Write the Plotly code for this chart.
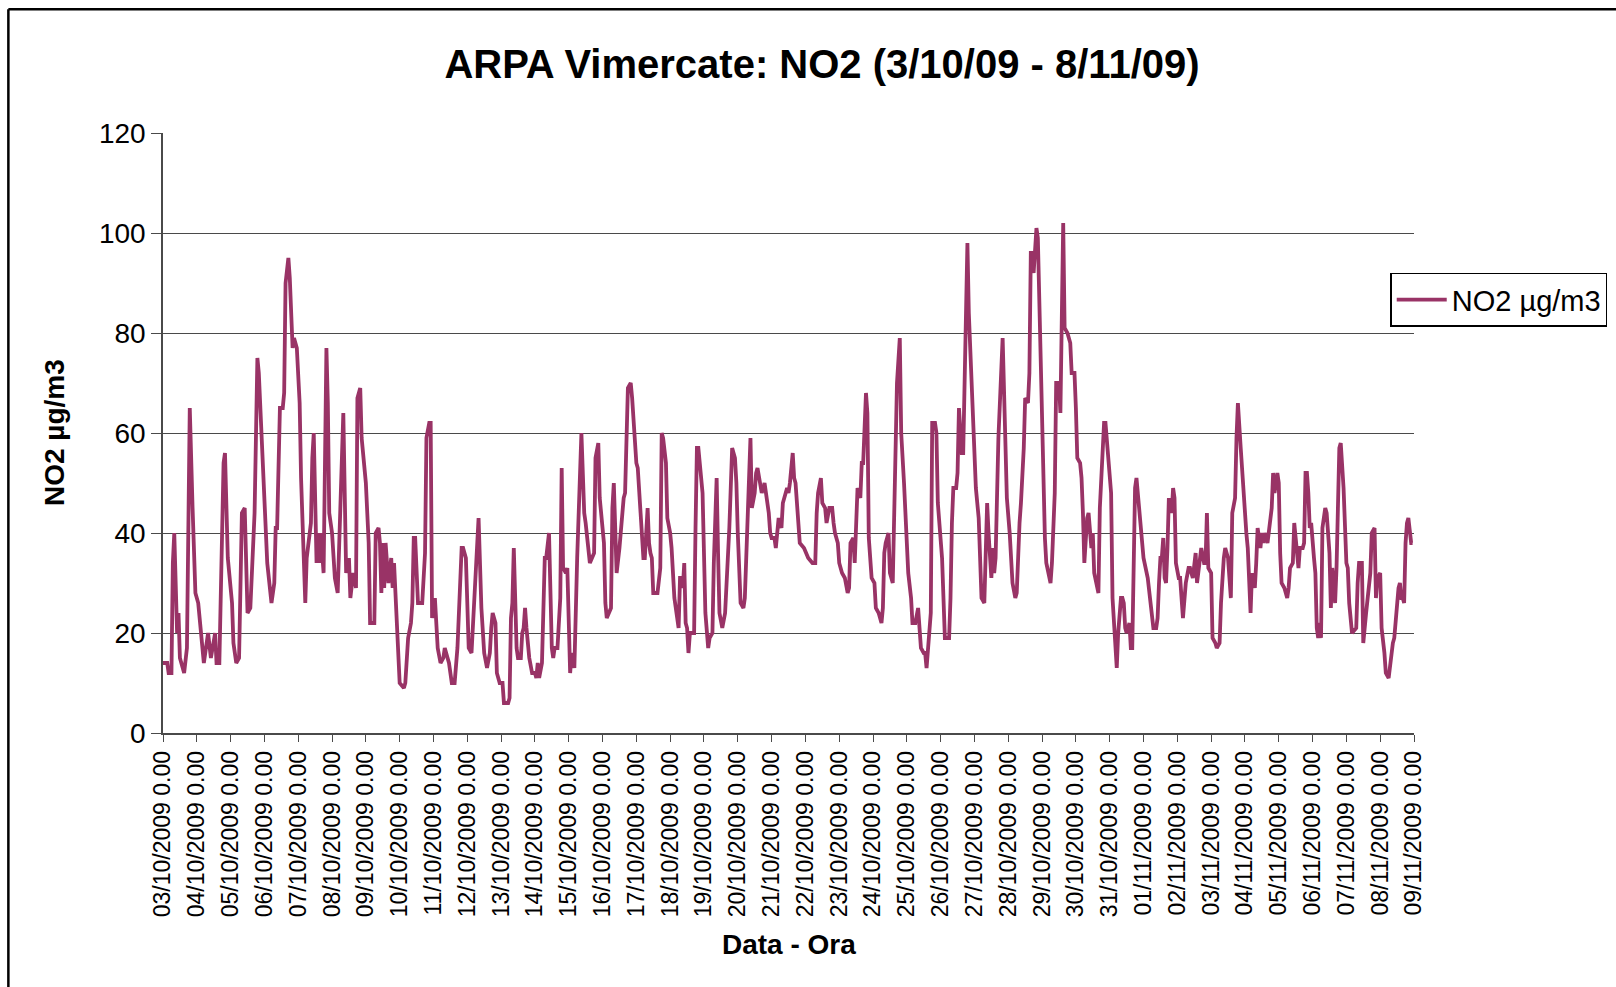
"""ARPA Vimercate NO2 hourly series, 3/10/09 - 8/11/09."""

import pandas as pd
import plotly.graph_objects as go

START = "2009-10-03"
N_DAYS = 37

# hours since 03/10/2009 0.00, and NO2 (µg/m3)
hours = [
    0, 3, 4, 6, 7, 8, 10, 11, 12, 15, 17, 18, 19, 21, 23, 25, 26, 28, 29, 32, 34, 37, 38, 40,
    43, 44, 46, 49, 50, 52, 54, 56, 58, 60, 62, 65, 67, 68, 70, 71, 72, 74, 77, 79, 80, 81,
    83, 85, 86, 87, 89, 90, 92, 93, 95, 97, 98, 101, 102, 105, 106, 107,
    109, 110, 111, 112, 114, 116, 117, 118, 120, 122, 124, 125, 128, 129, 130, 132, 133, 135,
    137, 138, 140, 141, 144, 145, 146, 147, 150, 151, 153, 154, 155, 156, 157, 158, 160, 162,
    163, 164, 166, 167, 168, 171, 172, 174, 176, 177, 178, 179, 181, 183, 184, 186, 187, 189,
    190, 191, 193, 195, 197, 199, 200, 203, 205, 207, 209, 212, 213, 215, 217, 219, 222, 224,
    226, 228, 230, 232, 233, 234, 236, 237, 239, 241, 242, 245, 246, 247, 248, 249, 251, 252,
    254, 255, 256, 257, 258, 260, 262, 264, 265, 266, 267, 269, 271, 272, 274, 276, 277, 278,
    280, 282, 283, 284, 286, 287, 289, 290, 292, 294, 297, 299, 300, 303, 306, 307, 309, 310,
    313, 314, 315, 318, 319, 320, 322, 324, 327, 328, 330, 332, 333, 336, 337,
    338, 339, 341, 342, 344, 345, 346, 347, 348, 351, 353, 354, 355, 357, 358, 360, 361, 363,
    366, 367, 368, 369, 370, 371, 372, 373, 374, 377, 378, 379, 380, 383, 385, 387, 388, 390,
    391, 393, 394, 395, 397, 399, 402, 404, 406, 407, 408, 410, 412, 413, 417, 418, 420, 421,
    422, 425, 427, 430, 431, 432, 434, 435, 437, 439, 440, 442, 443, 444, 445, 447, 448, 449,
    450, 451, 452,
    455, 458, 461, 463, 464, 465, 467, 468, 470, 471, 473, 475, 476, 477, 479, 480, 482, 484,
    486, 487, 488, 490, 491, 492, 493, 495, 496, 497, 499, 500, 501, 503, 505, 506, 508, 510,
    511, 512, 513, 515, 516, 518, 520, 521, 523, 524, 526, 528, 529, 531, 532, 534, 536, 537,
    538, 540, 541, 542, 545, 546, 548, 549, 550, 553, 554, 555, 558, 559, 560, 561, 563, 564,
    565,
    567, 568, 569, 571, 572, 573, 575, 576, 577, 579, 580, 581, 583, 584, 585, 586, 588, 589,
    590, 591, 593, 596, 597, 598, 599, 601, 602, 603, 605, 606, 608, 609, 611, 612, 614, 615,
    616, 617, 618, 619, 620, 621, 622, 623, 624, 625, 626, 627, 630, 631, 633, 634, 636, 637,
    638, 639, 640, 642, 643, 644, 645, 647, 648, 649, 651, 652, 653, 654, 656, 657, 659, 660,
    661, 664, 665, 668, 669, 673, 674, 675, 677, 678, 680,
    681, 682, 683, 684, 686, 687, 688, 690, 691, 693, 695, 696, 699, 700, 701, 703, 705, 706,
    707, 708, 709, 710, 711, 712, 713, 714, 716, 717, 718, 719, 721, 722, 724, 725, 726, 728,
    729, 731, 733, 734, 735, 737, 739, 740, 741, 742, 744, 745, 747, 748, 750, 751, 753, 754,
    756, 758, 759, 761, 762, 763, 765, 766, 767, 769, 770, 771, 772, 773, 775, 776, 777, 779,
    780, 781, 782, 784, 785, 787, 788, 789, 791, 792,
    793, 794, 796, 798, 799, 800, 802, 803, 804, 806, 807, 809, 810, 811, 812, 813, 814, 815,
    817, 818, 819, 820, 821, 822, 823, 825, 826, 828, 829, 830, 832, 833, 835, 836, 838, 840,
    841, 842, 844, 847, 848, 849, 851, 852, 854, 855, 857, 858, 860, 861, 862, 864, 865, 867,
    868, 870, 871, 873, 874, 875, 876, 877, 878, 879, 880, 881, 882, 883, 884, 886, 887,
]

no2 = [
    14, 14, 12, 12, 34, 40, 20, 24, 15, 12, 17, 45, 65, 45, 28, 26, 23, 17, 14, 20, 15, 20, 14, 14,
    54, 56, 35, 26, 18, 14, 15, 44, 45, 24, 25, 44, 75, 72, 60, 56, 49, 34, 26, 30, 41, 41,
    65, 65, 68, 90, 95, 91, 77, 79, 77, 66, 51, 26, 35, 42, 55, 60,
    34, 40, 34, 40, 32, 77, 66, 44, 40, 31, 28, 38, 64, 48, 32, 35, 27, 32,
    29, 67, 69, 59, 50, 44, 38, 22, 22, 40, 41, 38, 28, 38, 29, 38, 30, 35,
    29, 34, 21, 14, 10, 9, 10, 19, 22, 26, 39, 39, 26, 26, 26, 36, 59, 62,
    62, 23, 27, 17, 14, 15, 17, 14, 10, 10, 17, 37, 37, 35, 17, 16, 32, 43,
    25, 16, 13, 16, 21, 24, 22, 12, 10, 10, 6, 6, 7, 23, 26, 37, 17, 15,
    15, 20, 21, 25, 21, 15, 12, 12, 11, 14, 11, 14, 35, 35, 40, 17, 15, 17,
    17, 27, 53, 33, 32, 33, 12, 16, 13, 35, 60, 44, 42, 34, 36, 55, 58, 47,
    38, 26, 23, 25, 45, 50, 32, 37, 47, 48, 69, 70, 67, 54, 53,
    47, 44, 35, 35, 45, 38, 36, 35, 28, 28, 33, 60, 59, 54, 43, 40, 37, 27,
    21, 31, 31, 29, 34, 22, 21, 16, 20, 20, 41, 57, 57, 48, 24, 17, 19, 20,
    34, 51, 36, 24, 21, 24, 41, 57, 55, 50, 40, 26, 25, 27, 59, 45, 48, 52,
    53, 48, 50, 44, 40, 39, 39, 37, 43, 41, 46, 48, 49, 48, 50, 56, 51, 50,
    46, 43, 38,
    37, 35, 34, 34, 44, 48, 51, 46, 45, 42, 45, 45, 42, 40, 38, 34, 32, 31,
    28, 29, 38, 39, 34, 44, 49, 47, 54, 54, 68, 64, 39, 31, 30, 25, 24, 22,
    25, 36, 38, 40, 32, 30, 60, 70, 79, 60, 50, 37, 32, 27, 22, 22, 25, 21,
    17, 16, 16, 13, 24, 62, 62, 60, 46, 35, 28, 19, 19, 27, 42, 49, 49, 52,
    65,
    56, 56, 72, 98, 84, 76, 63, 55, 49, 43, 34, 27, 26, 36, 46, 40, 31, 37,
    32, 35, 59, 79, 66, 52, 47, 40, 34, 30, 27, 28, 42, 46, 57, 67, 66, 72,
    96, 96, 92, 97, 101, 99, 87, 67, 61, 49, 39, 34, 30, 34, 48, 70, 70, 64,
    79, 102, 81, 80, 79, 78, 72, 72, 65, 55, 54, 51, 44, 34, 43, 44, 37, 40,
    32, 28, 45, 62, 62, 48, 27, 21, 13, 20, 27,
    27, 26, 21, 20, 22, 17, 17, 49, 51, 45, 38, 35, 31, 28, 26, 21, 21, 23,
    30, 35, 35, 39, 31, 30, 37, 47, 44, 49, 47, 34, 31, 31, 23, 27, 30, 33,
    33, 31, 36, 30, 32, 37, 34, 34, 44, 33, 32, 19, 18, 17, 18, 26, 35, 37,
    35, 27, 44, 47, 59, 66, 57, 52, 47, 40, 37, 29, 24, 32, 29, 34, 41, 37,
    40, 38, 40, 38, 40, 45, 52, 48, 52, 50,
    36, 30, 29, 27, 29, 33, 34, 42, 39, 33, 37, 37, 38, 52, 52, 48, 41, 42,
    35, 32, 21, 19, 22, 19, 41, 45, 44, 36, 25, 33, 26, 33, 57, 58, 49, 34,
    33, 26, 20, 21, 30, 34, 34, 18, 24, 27, 32, 40, 41, 27, 31, 32, 21, 16,
    12, 11, 14, 18, 19, 23, 25, 29, 30, 27, 27, 26, 38, 42, 43, 38, 38,
]

y_ticks = [0, 20, 40, 60, 80, 100, 120]

LINE = "#993366"
GRID = "#4a4a4a"
FONT = "Liberation Sans, Arial, sans-serif"

t0 = pd.Timestamp(START)
times = t0 + pd.to_timedelta(hours, unit="h")
days = pd.date_range(START, periods=N_DAYS + 1, freq="D")
day_labels = [d.strftime("%d/%m/%Y") + " 0.00" for d in days]

fig = go.Figure(go.Scatter(
    x=times,
    y=no2,
    mode="lines",
    name="NO2 µg/m3",
    line=dict(color=LINE, width=3.8),
))

fig.update_layout(
    width=1616,
    height=987,
    margin=dict(l=163, r=202, t=133, b=254, autoexpand=False),
    paper_bgcolor="white",
    plot_bgcolor="white",
    font=dict(family=FONT, color="black"),
    title=dict(
        text="<b>ARPA Vimercate: NO2 (3/10/09 - 8/11/09)</b>",
        font=dict(size=40, color="black"),
        x=(822 - 162.7) / 1251.6, xanchor="center",
        y=1 - 64 / 987, yanchor="middle",
        xref="paper", yref="container",
    ),
    legend=dict(
        x=0.981, xanchor="left",
        y=0.767, yanchor="top",
        bordercolor="black", borderwidth=1.5,
        bgcolor="white",
        itemwidth=50,
        font=dict(size=29, color="black"),
    ),
    showlegend=True,
)

fig.update_xaxes(
    range=[days[0], days[-1]],
    tickvals=days,
    ticktext=day_labels,
    tickangle=-90,
    tickfont=dict(size=23, color="black"),
    ticks="outside", ticklen=7, tickcolor=GRID,
    showline=True, linecolor=GRID, linewidth=1.5,
    showgrid=False, zeroline=False,
)
fig.update_yaxes(
    range=[0, 120],
    tickvals=y_ticks,
    tickfont=dict(size=28, color="black"),
    ticks="outside", ticklen=10, tickcolor=GRID,
    showline=True, linecolor=GRID, linewidth=1.5,
    showgrid=True, gridcolor=GRID, gridwidth=1,
    zeroline=False,
)

fig.add_annotation(
    text="<b>NO2 µg/m3</b>", textangle=-90,
    xref="paper", yref="paper", x=(54 - 163) / 1251.6, y=0.5,
    xanchor="center", yanchor="middle", showarrow=False,
    font=dict(size=28, color="black"),
)
fig.add_annotation(
    text="<b>Data - Ora</b>",
    xref="paper", yref="paper", x=0.5, y=(732.7 - 944) / 600,
    xanchor="center", yanchor="middle", showarrow=False,
    font=dict(size=28, color="black"),
)

# outer chart border (only left and top edges fall inside the frame)
bx = (8 - 162.7) / 1251.6
by = (732.7 - 9) / 600
fig.add_shape(type="line", xref="paper", yref="paper",
              x0=bx, x1=bx, y0=by, y1=-0.5, line=dict(color="black", width=2.5))
fig.add_shape(type="line", xref="paper", yref="paper",
              x0=bx, x1=1.2, y0=by, y1=by, line=dict(color="black", width=2.5))

fig.write_html(
    "out.html",
    config={"displayModeBar": False},
    post_script="document.body.style.margin='0';",
)
